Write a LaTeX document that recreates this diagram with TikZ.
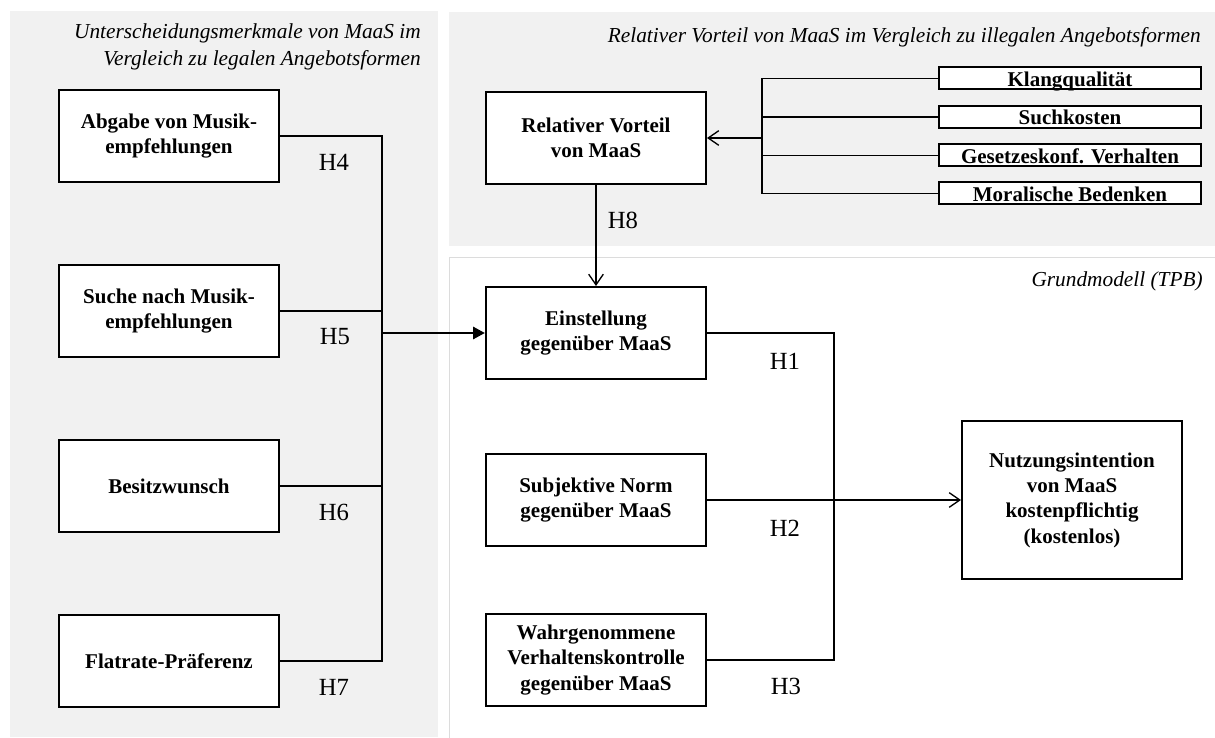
\documentclass[tikz,border=0pt]{standalone}
\usepackage{fontspec}
\setmainfont{Liberation Serif}
\usetikzlibrary{arrows.meta}
\definecolor{panelgray}{HTML}{F1F1F1}
\definecolor{panelborder}{HTML}{DCDCDC}
\tikzset{
  conbox/.style={draw, line width=1.5pt, fill=white, minimum width=165pt, minimum height=69pt,
    align=center, inner sep=2pt, font=\fontsize{15.75}{19}\selectfont\bfseries},
  factbox/.style={draw, line width=1.5pt, fill=white, minimum width=196.5pt, minimum height=16.5pt,
    inner sep=0pt, text height=13pt, text depth=1.5pt, font=\fontsize{15.75}{17}\selectfont\bfseries},
  hlabel/.style={font=\fontsize{18.5}{20}\selectfont, inner sep=0pt},
  ptitle/.style={font=\fontsize{16}{20}\selectfont\itshape, inner sep=0pt, align=right},
  conn/.style={line width=1pt},
  openarrow/.style={-{Straight Barb[length=8pt,width=11pt,line width=1pt]}},
}
\begin{document}
\begin{tikzpicture}[x=0.75pt,y=-0.75pt]
\useasboundingbox (0,0) rectangle (1215,738);
% panels
\fill[panelgray] (10,11) rectangle (438,737);
\fill[panelgray] (449,12) rectangle (1215,246);
\draw[panelborder, line width=1pt] (449.5,739) -- (449.5,257.5) -- (1216,257.5);
% titles
\node[ptitle, anchor=east] (t1) at (421,47) {Unterscheidungsmerkmale von MaaS im\\Vergleich zu legalen Angebotsformen};
\node[ptitle, anchor=east] (t2) at (1201,37) {Relativer Vorteil von MaaS im Vergleich zu illegalen Angebotsformen};
\node[ptitle, anchor=east] (t3) at (1203,281) {Grundmodell (TPB)};
% left boxes
\node[conbox] (abg) at (169,136) {Abgabe von Musik-\\empfehlungen};
\node[conbox] (such) at (169,311) {Suche nach Musik-\\empfehlungen};
\node[conbox] (besitz) at (169,486) {Besitzwunsch};
\node[conbox] (flat) at (169,661) {Flatrate-Präferenz};
% middle boxes
\node[conbox] (rv) at (596,138) {Relativer Vorteil\\von MaaS};
\node[conbox] (ein) at (596,333) {Einstellung\\gegenüber MaaS};
\node[conbox] (subj) at (596,500) {Subjektive Norm\\gegenüber MaaS};
\node[conbox] (wahr) at (596,660) {Wahrgenommene\\Verhaltenskontrolle\\gegenüber MaaS};
\node[conbox, minimum height=118.5pt] (nutz) at (1072,500) {Nutzungsintention\\von MaaS\\kostenpflichtig\\(kostenlos)};
% factor boxes
\node[factbox] (k1) at (1070,78.5) {Klangqualität};
\node[factbox] (k2) at (1070,117) {Suchkosten};
\node[factbox] (k3) at (1070,155.5) {Gesetzeskonf. Verhalten};
\node[factbox] (k4) at (1070,193.5) {Moralische Bedenken};
% left trunk
\coordinate (lt1) at (382,136);
\coordinate (lt4) at (382,661);
\coordinate (ltj) at (382,333);
\draw[conn] (abg.east) -- (lt1) -- (lt4) -- (flat.east);
\draw[conn] (such.east) -- (such.east -| lt1);
\draw[conn] (besitz.east) -- (besitz.east -| lt1);
\draw[line width=2.2pt, -{Triangle[length=9pt,width=9pt]}] (ltj) -- (ein.west);
\node[hlabel] (h4) at (334,162) {H4};
\node[hlabel] (h5) at (335,337) {H5};
\node[hlabel] (h6) at (334,512) {H6};
\node[hlabel] (h7) at (334,687) {H7};
% bracket of factors
\coordinate (b1) at (762,78.5);
\coordinate (b4) at (762,193.5);
\coordinate (bj) at (762,138);
\draw[conn] (k1.west) -- (b1) -- (b4) -- (k4.west);
\draw[conn] (k2.west) -- (k2.west -| b1);
\draw[conn] (k3.west) -- (k3.west -| b1);
\draw[line width=1.6pt, openarrow] (bj) -- (rv.east);
% H8
\draw[conn, openarrow] (rv.south) -- (ein.north);
\node[hlabel] (h8) at (623,220) {H8};
% TPB
\coordinate (v1) at (834,333);
\coordinate (v3) at (834,660);
\draw[conn] (ein.east) -- (v1) -- (v3) -- (wahr.east);
\draw[conn] (subj.east) -- (subj.east -| v1);
\draw[line width=1.3pt, openarrow] (subj.east -| v1) -- (nutz.west);
\node[hlabel] (h1) at (785,361) {H1};
\node[hlabel] (h2) at (785,528) {H2};
\node[hlabel] (h3) at (786,686) {H3};
\end{tikzpicture}
\end{document}
